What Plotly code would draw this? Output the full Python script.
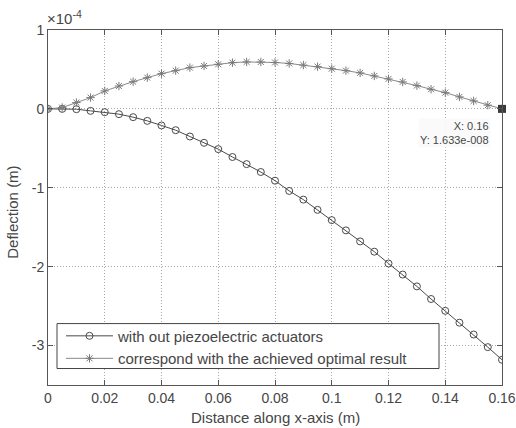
import plotly.graph_objects as go

# Distance along the beam (m)
distance = [0.0, 0.005, 0.01, 0.015, 0.02, 0.025, 0.03, 0.035, 0.04, 0.045,
            0.05, 0.055, 0.06, 0.065, 0.07, 0.075, 0.08, 0.085, 0.09, 0.095,
            0.1, 0.105, 0.11, 0.115, 0.12, 0.125, 0.13, 0.135, 0.14, 0.145,
            0.15, 0.155, 0.16]

# Deflection in units of 1e-4 m
without_piezo = [0.0, 0.0, -0.004, -0.025, -0.042, -0.067, -0.105, -0.152, -0.21, -0.27,
                 -0.35, -0.43, -0.51, -0.61, -0.70, -0.80, -0.91, -1.04, -1.15, -1.28,
                 -1.41, -1.54, -1.68, -1.81, -1.96, -2.10, -2.25, -2.41, -2.56, -2.71,
                 -2.86, -3.02, -3.18]

optimal_result = [0.0, 0.017, 0.08, 0.143, 0.228, 0.29, 0.345, 0.396, 0.447, 0.485,
                  0.523, 0.544, 0.566, 0.586, 0.595, 0.595, 0.588, 0.576, 0.555, 0.536,
                  0.51, 0.485, 0.456, 0.418, 0.38, 0.342, 0.295, 0.249, 0.206, 0.152,
                  0.101, 0.047, 0.0]

legend_names = ["with out piezoelectric actuators",
                "correspond with the achieved optimal result"]

datatip_x = [0.16]
datatip_y = [1.633e-8 / 1e-4]

x_ticks = [0, 0.02, 0.04, 0.06, 0.08, 0.1, 0.12, 0.14, 0.16]
x_ticktext = ["0", "0.02", "0.04", "0.06", "0.08", "0.1", "0.12", "0.14", "0.16"]
y_ticks = [-3, -2, -1, 0, 1]
y_ticktext = ["-3", "-2", "-1", "0", "1"]

FONT = "Liberation Sans, Arial, sans-serif"
TXT = "#464646"
PW, PH = 454, 355.5   # plot area size in px
L, T = 48, 30


def px(xp):
    return (xp - L) / PW


def py(yp):
    return (T + PH - yp) / PH


fig = go.Figure()
fig.add_trace(go.Scatter(
    x=distance, y=without_piezo, mode="lines+markers", name=legend_names[0],
    line=dict(color="#4a4a4a", width=1),
    marker=dict(symbol="circle-open", size=7, color="#4a4a4a", line=dict(width=1))))
fig.add_trace(go.Scatter(
    x=distance, y=optimal_result, mode="lines+markers", name=legend_names[1],
    line=dict(color="#8a8a8a", width=1),
    marker=dict(symbol="asterisk-open", size=7, color="#7a7a7a", line=dict(width=1))))
fig.add_trace(go.Scatter(
    x=datatip_x, y=datatip_y, mode="markers", showlegend=False, cliponaxis=False,
    marker=dict(symbol="square", size=8, color="#3a3a3a")))

# Legend frame (paper coords)
fig.add_shape(type="rect", xref="paper", yref="paper",
              x0=px(57), x1=px(439), y0=py(369), y1=py(324),
              line=dict(color="#444444", width=1), fillcolor="white", layer="above")

annotations = [
    dict(text="×10<sup>-4</sup>", xref="paper", yref="paper", x=px(45), y=py(29),
         xanchor="left", yanchor="bottom", showarrow=False,
         font=dict(family=FONT, size=15, color=TXT)),
    dict(text="Distance along x-axis (m)", xref="paper", yref="paper",
         x=px(275), y=py(418), xanchor="center", yanchor="middle",
         showarrow=False, font=dict(family=FONT, size=15, color=TXT)),
    dict(text="Deflection (m)", xref="paper", yref="paper",
         x=px(13), y=py(213), xanchor="center", yanchor="middle",
         textangle=-90, showarrow=False, font=dict(family=FONT, size=15, color=TXT)),
    dict(text="X: 0.16<br>Y: 1.633e-008", xref="paper", yref="paper",
         x=px(491), y=py(118), xanchor="right", yanchor="top",
         align="right", showarrow=False, bgcolor="rgba(250,250,250,0.9)",
         font=dict(family=FONT, size=11, color=TXT)),
]

axis_common = dict(
    showgrid=True, gridcolor="#a8a8a8", griddash="1px,2px", gridwidth=1,
    showline=True, linecolor="#555555", linewidth=1, mirror="ticks",
    ticks="inside", ticklen=5, tickcolor="#555555", zeroline=False,
    automargin=False, tickfont=dict(family=FONT, size=14, color=TXT))

fig.update_layout(
    width=516, height=428,
    margin=dict(l=L, r=516 - L - PW, t=T, b=428 - T - PH, autoexpand=False),
    paper_bgcolor="white", plot_bgcolor="white",
    font=dict(family=FONT, size=14, color=TXT),
    showlegend=True,
    legend=dict(x=px(61), y=py(320), xanchor="left", yanchor="top",
                bgcolor="rgba(0,0,0,0)", borderwidth=0,
                font=dict(family=FONT, size=15, color=TXT),
                itemwidth=47, tracegroupgap=0),
    annotations=annotations,
    xaxis=dict(range=[0, 0.16], tickvals=x_ticks, ticktext=x_ticktext, **axis_common),
    yaxis=dict(range=[-3.5, 1], tickvals=y_ticks, ticktext=y_ticktext, **axis_common),
)

fig.write_html("out.html")
